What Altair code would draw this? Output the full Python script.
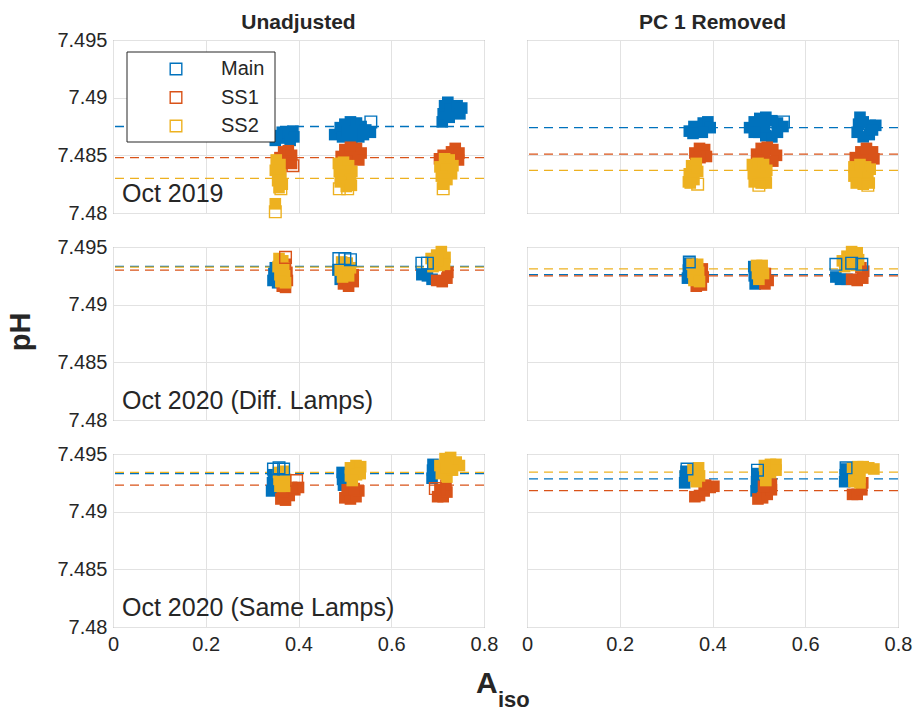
import altair as alt
import pandas as pd

FONT = "Liberation Sans"
TXT = "#262626"
SERIES = ["Main", "SS1", "SS2"]
COLORS = ["#0072BD", "#D95319", "#EDB120"]
X_TICKS = [0, 0.2, 0.4, 0.6, 0.8]
Y_TICKS = [7.48, 7.485, 7.49, 7.495]
COL_TITLES = ["Unadjusted", "PC 1 Removed"]
ROW_LABELS = ["Oct 2019", "Oct 2020 (Diff. Lamps)", "Oct 2020 (Same Lamps)"]

# ---------------- Oct 2019, Unadjusted ----------------
R1U_MAIN = [(0.350, 7.4863), (0.358, 7.4867), (0.370, 7.4865), (0.378, 7.4869), (0.388, 7.4871), (0.390, 7.4866),
            (0.365, 7.4870), (0.352, 7.4867), (0.382, 7.4863),
            (0.478, 7.4868), (0.490, 7.4874), (0.500, 7.4877), (0.512, 7.4879), (0.525, 7.4878), (0.535, 7.4875),
            (0.545, 7.4872), (0.555, 7.4870), (0.495, 7.4866), (0.515, 7.4864), (0.530, 7.4866), (0.505, 7.4871),
            (0.522, 7.4871), (0.540, 7.4868),
            (0.710, 7.4879), (0.712, 7.4886), (0.715, 7.4893), (0.722, 7.4896), (0.728, 7.4890), (0.742, 7.4893),
            (0.752, 7.4891), (0.748, 7.4886), (0.725, 7.4883)]
R1U_SS1 = [(0.360, 7.4848), (0.368, 7.4853), (0.378, 7.4854), (0.385, 7.4850), (0.372, 7.4845), (0.385, 7.4843),
           (0.362, 7.4842),
           (0.492, 7.4849), (0.500, 7.4855), (0.512, 7.4857), (0.525, 7.4856), (0.535, 7.4852), (0.530, 7.4846),
           (0.515, 7.4848), (0.503, 7.4845),
           (0.704, 7.4847), (0.712, 7.4850), (0.722, 7.4846), (0.730, 7.4853), (0.738, 7.4856), (0.746, 7.4852),
           (0.745, 7.4846)]
R1U_SS2 = [(0.352, 7.4846), (0.360, 7.4842), (0.350, 7.4837), (0.362, 7.4833), (0.355, 7.4828), (0.365, 7.4825),
           (0.358, 7.4822), (0.350, 7.4808),
           (0.486, 7.4843), (0.497, 7.4844), (0.508, 7.4841), (0.515, 7.4836), (0.488, 7.4836), (0.500, 7.4833),
           (0.512, 7.4829), (0.490, 7.4827), (0.503, 7.4823), (0.514, 7.4824),
           (0.715, 7.4847), (0.725, 7.4846), (0.733, 7.4841), (0.705, 7.4840), (0.718, 7.4838), (0.730, 7.4834),
           (0.708, 7.4832), (0.720, 7.4829), (0.712, 7.4825)]
R1U_OPEN = [("Main", 0.556, 7.4879), ("SS1", 0.388, 7.4841), ("SS2", 0.362, 7.4821), ("SS2", 0.350, 7.4801),
            ("SS2", 0.488, 7.4821), ("SS2", 0.506, 7.4821), ("SS2", 0.712, 7.4821)]
R1U_MEANS = [7.4875, 7.4848, 7.4830]

# ---------------- Oct 2019, PC 1 removed ----------------
R1P_MAIN = [(0.350, 7.4871), (0.360, 7.4875), (0.370, 7.4873), (0.380, 7.4878), (0.390, 7.4879), (0.395, 7.4874),
            (0.378, 7.4870), (0.358, 7.4869),
            (0.480, 7.4874), (0.490, 7.4879), (0.502, 7.4882), (0.515, 7.4883), (0.528, 7.4880), (0.540, 7.4878),
            (0.552, 7.4875), (0.500, 7.4870), (0.515, 7.4867), (0.528, 7.4866), (0.540, 7.4870), (0.512, 7.4875),
            (0.490, 7.4870),
            (0.718, 7.4883), (0.715, 7.4877), (0.725, 7.4879), (0.740, 7.4876), (0.752, 7.4876), (0.712, 7.4870),
            (0.725, 7.4866), (0.738, 7.4868), (0.745, 7.4872)]
R1P_SS1 = [(0.362, 7.4852), (0.372, 7.4856), (0.383, 7.4855), (0.387, 7.4849), (0.373, 7.4848), (0.364, 7.4847),
           (0.495, 7.4851), (0.505, 7.4856), (0.518, 7.4857), (0.530, 7.4855), (0.538, 7.4850), (0.530, 7.4845),
           (0.512, 7.4847), (0.498, 7.4846),
           (0.708, 7.4848), (0.720, 7.4853), (0.732, 7.4856), (0.745, 7.4853), (0.748, 7.4847), (0.725, 7.4846),
           (0.712, 7.4845)]
R1P_SS2 = [(0.348, 7.4827), (0.350, 7.4834), (0.355, 7.4841), (0.365, 7.4843), (0.368, 7.4836), (0.360, 7.4829),
           (0.352, 7.4826),
           (0.486, 7.4842), (0.498, 7.4843), (0.510, 7.4842), (0.517, 7.4837), (0.488, 7.4834), (0.502, 7.4833),
           (0.515, 7.4830), (0.490, 7.4827), (0.505, 7.4826), (0.516, 7.4826),
           (0.705, 7.4840), (0.718, 7.4842), (0.730, 7.4840), (0.740, 7.4838), (0.705, 7.4832), (0.720, 7.4833),
           (0.735, 7.4831), (0.710, 7.4826), (0.725, 7.4825), (0.738, 7.4826)]
R1P_OPEN = [("Main", 0.553, 7.4879), ("SS2", 0.368, 7.4825), ("SS2", 0.500, 7.4824), ("SS2", 0.735, 7.4824)]
R1P_MEANS = [7.4874, 7.4851, 7.4837]

# ---------------- Oct 2020 (Diff. Lamps), Unadjusted ----------------
R2U_MAIN = [(0.345, 7.4921), (0.347, 7.4927), (0.350, 7.4932), (0.355, 7.4919),
            (0.485, 7.4930), (0.490, 7.4922), (0.500, 7.4936),
            (0.666, 7.4926), (0.678, 7.4925), (0.688, 7.4922)]
R2U_SS1 = [(0.372, 7.4935), (0.375, 7.4928), (0.376, 7.4921), (0.372, 7.4915), (0.365, 7.4916),
           (0.497, 7.4918), (0.508, 7.4916), (0.518, 7.4920), (0.518, 7.4926), (0.500, 7.4924),
           (0.698, 7.4921), (0.710, 7.4920), (0.720, 7.4923), (0.722, 7.4928)]
R2U_SS2 = [(0.358, 7.4940), (0.366, 7.4938), (0.356, 7.4933), (0.368, 7.4932), (0.360, 7.4926), (0.370, 7.4925),
           (0.362, 7.4920), (0.372, 7.4919),
           (0.493, 7.4937), (0.505, 7.4936), (0.490, 7.4930), (0.502, 7.4930), (0.512, 7.4932), (0.495, 7.4924),
           (0.508, 7.4925),
           (0.686, 7.4940), (0.698, 7.4943), (0.708, 7.4946), (0.716, 7.4941), (0.690, 7.4933), (0.703, 7.4934),
           (0.715, 7.4935), (0.700, 7.4938)]
R2U_OPEN = [("Main", 0.487, 7.4940), ("Main", 0.500, 7.4940), ("Main", 0.512, 7.4939),
            ("Main", 0.666, 7.4936), ("Main", 0.678, 7.4936), ("SS1", 0.372, 7.4941)]
R2U_MEANS = [7.49332, 7.4930, 7.49325]

# ---------------- Oct 2020 (Diff. Lamps), PC 1 removed ----------------
R2P_MAIN = [(0.346, 7.4923), (0.348, 7.4930), (0.350, 7.4936),
            (0.489, 7.4933), (0.490, 7.4925), (0.492, 7.4918),
            (0.666, 7.4924), (0.676, 7.4922), (0.690, 7.4922)]
R2P_SS1 = [(0.378, 7.4931), (0.380, 7.4924), (0.376, 7.4917), (0.365, 7.4916),
           (0.514, 7.4927), (0.520, 7.4921), (0.513, 7.4918),
           (0.700, 7.4922), (0.712, 7.4921), (0.724, 7.4923), (0.726, 7.4929), (0.720, 7.4932)]
R2P_SS2 = [(0.356, 7.4935), (0.368, 7.4935), (0.358, 7.4928), (0.370, 7.4928), (0.360, 7.4921), (0.372, 7.4920),
           (0.495, 7.4934), (0.507, 7.4934), (0.497, 7.4927), (0.510, 7.4927), (0.500, 7.4922),
           (0.680, 7.4938), (0.690, 7.4942), (0.700, 7.4946), (0.712, 7.4945), (0.715, 7.4939), (0.685, 7.4933),
           (0.700, 7.4935), (0.710, 7.4934)]
R2P_OPEN = [("Main", 0.350, 7.4937), ("Main", 0.666, 7.4935), ("Main", 0.700, 7.4936), ("Main", 0.722, 7.4935)]
R2P_MEANS = [7.4926, 7.4925, 7.4931]

# ---------------- Oct 2020 (Same Lamps), Unadjusted ----------------
R3U_MAIN = [(0.342, 7.4918), (0.344, 7.4925), (0.346, 7.4932),
            (0.494, 7.4934), (0.495, 7.4928), (0.497, 7.4923),
            (0.688, 7.4929), (0.689, 7.4936), (0.690, 7.4941)]
R3U_SS1 = [(0.362, 7.4911), (0.372, 7.4910), (0.380, 7.4914), (0.392, 7.4919), (0.400, 7.4921), (0.385, 7.4921),
           (0.365, 7.4917),
           (0.500, 7.4912), (0.512, 7.4911), (0.524, 7.4913), (0.530, 7.4918), (0.505, 7.4919), (0.520, 7.4920),
           (0.700, 7.4913), (0.712, 7.4913), (0.720, 7.4917), (0.718, 7.4923), (0.705, 7.4919)]
R3U_SS2 = [(0.357, 7.4934), (0.368, 7.4935), (0.358, 7.4928), (0.372, 7.4928), (0.360, 7.4922), (0.370, 7.4922),
           (0.512, 7.4938), (0.524, 7.4940), (0.534, 7.4939), (0.512, 7.4931), (0.525, 7.4932), (0.533, 7.4933),
           (0.516, 7.4927),
           (0.705, 7.4940), (0.716, 7.4946), (0.728, 7.4947), (0.740, 7.4943), (0.747, 7.4940), (0.708, 7.4933),
           (0.720, 7.4930), (0.732, 7.4936), (0.718, 7.4938)]
R3U_OPEN = [("Main", 0.346, 7.4937), ("Main", 0.358, 7.4938), ("Main", 0.368, 7.4937),
            ("SS1", 0.396, 7.4927), ("SS1", 0.695, 7.4920)]
R3U_MEANS = [7.4933, 7.4923, 7.4934]

# ---------------- Oct 2020 (Same Lamps), PC 1 removed ----------------
R3P_MAIN = [(0.340, 7.4925), (0.341, 7.4931), (0.343, 7.4935),
            (0.494, 7.4918), (0.495, 7.4926), (0.497, 7.4933),
            (0.685, 7.4926), (0.686, 7.4932), (0.688, 7.4937)]
R3P_SS1 = [(0.362, 7.4913), (0.372, 7.4914), (0.382, 7.4918), (0.395, 7.4921), (0.403, 7.4922), (0.385, 7.4923),
           (0.498, 7.4911), (0.508, 7.4912), (0.518, 7.4915), (0.527, 7.4919), (0.527, 7.4924), (0.510, 7.4922),
           (0.702, 7.4915), (0.712, 7.4915), (0.722, 7.4919), (0.724, 7.4925)]
R3P_SS2 = [(0.358, 7.4937), (0.370, 7.4938), (0.360, 7.4931), (0.372, 7.4931), (0.365, 7.4926),
           (0.512, 7.4940), (0.525, 7.4941), (0.537, 7.4941), (0.513, 7.4933), (0.525, 7.4934), (0.537, 7.4936),
           (0.515, 7.4927),
           (0.702, 7.4938), (0.713, 7.4939), (0.725, 7.4939), (0.737, 7.4938), (0.748, 7.4937), (0.705, 7.4931),
           (0.718, 7.4930), (0.705, 7.4926), (0.718, 7.4925)]
R3P_OPEN = [("Main", 0.345, 7.4937), ("Main", 0.497, 7.4936), ("Main", 0.688, 7.4938)]
R3P_MEANS = [7.49285, 7.49182, 7.49342]

PANELS = [
    (R1U_MAIN, R1U_SS1, R1U_SS2, R1U_OPEN, R1U_MEANS),
    (R1P_MAIN, R1P_SS1, R1P_SS2, R1P_OPEN, R1P_MEANS),
    (R2U_MAIN, R2U_SS1, R2U_SS2, R2U_OPEN, R2U_MEANS),
    (R2P_MAIN, R2P_SS1, R2P_SS2, R2P_OPEN, R2P_MEANS),
    (R3U_MAIN, R3U_SS1, R3U_SS2, R3U_OPEN, R3U_MEANS),
    (R3P_MAIN, R3P_SS1, R3P_SS2, R3P_OPEN, R3P_MEANS),
]

W, H = 371, 173
MSIZE = 135
color_scale = alt.Scale(domain=SERIES, range=COLORS)


def text_layer(label, size, bold, x, y, align="left", baseline="alphabetic", angle=None):
    kw = dict(align=align, baseline=baseline, fontSize=size, font=FONT, color=TXT,
              fontWeight="bold" if bold else "normal")
    if angle is not None:
        kw["angle"] = angle
    return alt.Chart(pd.DataFrame({"t": [label]})).mark_text(**kw).encode(
        x=alt.value(x), y=alt.value(y), text="t:N")


def legend_layers():
    box = alt.Chart(pd.DataFrame({"a": [0]})).mark_rect(
        fill="white", stroke="#262626", strokeWidth=1).encode(
        x=alt.value(14), x2=alt.value(162), y=alt.value(12), y2=alt.value(102))
    out = [box]
    for i, (s, c) in enumerate(zip(SERIES, COLORS)):
        yy = 29 + 28.5 * i
        sym = alt.Chart(pd.DataFrame({"s": [s]})).mark_point(
            shape="square", filled=False, size=MSIZE, strokeWidth=1.4, color=c, opacity=1).encode(
            x=alt.value(63), y=alt.value(yy))
        out.append(sym)
        out.append(text_layer(s, 20, False, 108, yy, baseline="middle"))
    return out


def make_panel(idx):
    main, ss1, ss2, opened, means = PANELS[idx]
    row, col = divmod(idx, 2)
    pts = pd.DataFrame([(s, x, y) for s, lst in zip(SERIES, [main, ss1, ss2]) for x, y in lst],
                       columns=["series", "x", "y"])
    opn = pd.DataFrame(opened, columns=["series", "x", "y"])
    mdf = pd.DataFrame({"series": SERIES, "y": means})

    xax = alt.Axis(values=X_TICKS, format=".1~f", labels=(row == 2), labelFlush=False, labelFontSize=20,
                   labelFont=FONT, labelColor=TXT, labelPadding=7, ticks=False, domain=False,
                   grid=True, gridColor="#e2e2e2", title=None)
    yax = alt.Axis(values=Y_TICKS, format=".3~f", labels=(col == 0), labelFontSize=20, labelFont=FONT,
                   labelColor=TXT, labelPadding=6, ticks=False, domain=False, grid=True,
                   gridColor="#e2e2e2", title=None, labelOverlap=False)
    X = alt.X("x:Q", scale=alt.Scale(domain=[0, 0.8], nice=False), axis=xax)
    Y = alt.Y("y:Q", scale=alt.Scale(domain=[7.48, 7.495], nice=False, zero=False), axis=yax)
    C = alt.Color("series:N", scale=color_scale, legend=None)

    rules = alt.Chart(mdf).mark_rule(strokeDash=[9, 6], strokeWidth=1.3).encode(y=Y, color=C)
    filled = alt.Chart(pts).mark_square(size=MSIZE, opacity=1).encode(x=X, y=Y, color=C)
    openl = alt.Chart(opn).mark_point(shape="square", filled=False, size=MSIZE, strokeWidth=1.4,
                                      opacity=1).encode(x=X, y=Y, color=C)
    layers = [rules, filled, openl]
    if col == 0:
        layers.append(text_layer(ROW_LABELS[row], 25, False, 9, 162))
    if idx == 0:
        layers += legend_layers()
    if row == 0:
        layers.append(text_layer(COL_TITLES[col], 21, True, W / 2, -17, align="center", baseline="middle"))
    if idx == 2:
        layers.append(text_layer("pH", 29, True, -92, 85, align="center", baseline="middle", angle=270))
    if idx == 4:
        layers.append(text_layer("A", 30, True, 363, 239))
        layers.append(text_layer("iso", 22, True, 385, 253))
    return alt.layer(*layers).properties(width=W, height=H)


chart = alt.concat(*[make_panel(i) for i in range(6)], columns=2,
                   spacing={"row": 34, "column": 43}, bounds="flush").configure_view(
    stroke="#7a7a7a", strokeWidth=1).properties(
    padding={"left": 6, "top": 11, "right": 0, "bottom": 0}, background="white")

chart.save("out.html", embed_options={"renderer": "svg", "actions": False})
